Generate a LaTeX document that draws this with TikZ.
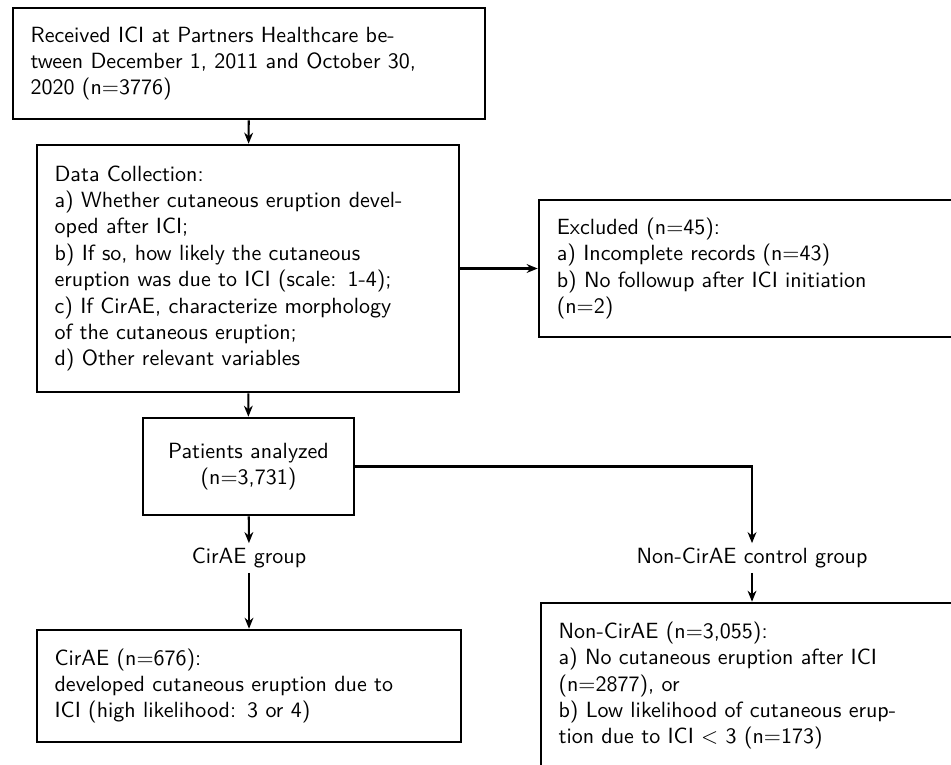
\documentclass[tikz,border=0pt]{standalone}
\usetikzlibrary{arrows.meta}
\renewcommand{\familydefault}{\sfdefault}

\begin{document}
\begin{tikzpicture}[x=0.4545pt,y=0.4545pt,yscale=-1,xscale=1,
  flowbox/.style={draw, line width=1.15pt, inner xsep=8pt, inner ysep=0pt, align=left},
  grouplabel/.style={inner sep=2pt},
  flowarrow/.style={line width=0.95pt, -{Stealth[length=5pt,width=4pt,inset=1.6pt]}}]
%set diagram frame: 951 x 764, boxes on the right run past the edge
\useasboundingbox (0,0) rectangle (951,764);
\clip (0,0) rectangle (951,764);

% Box: received ICI
\draw (249,63.5) node (recv) [flowbox, minimum width=214.5pt, minimum height=50.5pt, text width=198.5pt]
  {Received ICI at Partners Healthcare be-\\tween December 1, 2011 and October 30,\\2020 (n=3776)};

% Box: data collection
\draw (248,268.5) node (collect) [flowbox, minimum width=191.8pt, minimum height=112.3pt, text width=175.8pt]
  {Data Collection:\\
   a) Whether cutaneous eruption devel-\\oped after ICI;\\
   b) If so, how likely the cutaneous\\eruption was due to ICI (scale: 1-4);\\
   c) If CirAE, characterize morphology\\of the cutaneous eruption;\\
   d) Other relevant variables};

% Box: excluded
\draw (757,268.5) node (excl) [flowbox, minimum width=198.2pt, minimum height=62.3pt, text width=182pt]
  {Excluded (n=45):\\a) Incomplete records (n=43)\\b) No followup after ICI initiation\\(n=2)};

% Box: patients analyzed
\draw (248.5,466.5) node (analyzed) [flowbox, align=center, minimum width=95.9pt, minimum height=44.1pt]
  {Patients analyzed\\(n=3,731)};

% Text Node
\draw (249,558) node (cirgrp) [grouplabel] {CirAE group};
% Text Node
\draw (752,558) node (noncirgrp) [grouplabel] {Non-CirAE control group};

% Box: CirAE
\draw (249,686) node (cirae) [flowbox, minimum width=192.7pt, minimum height=50.9pt, text width=176.7pt]
  {CirAE (n=676):\\developed cutaneous eruption due to\\ICI (high likelihood: 3 or 4)};

% Box: Non-CirAE
\draw (758,685.5) node (noncirae) [flowbox, minimum width=197.3pt, minimum height=75pt, text width=181.3pt]
  {Non-CirAE (n=3,055):\\a) No cutaneous eruption after ICI\\(n=2877), or\\b) Low likelihood of cutaneous erup-\\tion due to ICI $<$ 3 (n=173)};

%Arrows
\draw [flowarrow] (recv) -- (collect);
\draw [flowarrow] (collect) -- (excl);
\draw [flowarrow] (collect) -- (analyzed);
\draw [flowarrow] (analyzed) -- (cirgrp);
\draw [flowarrow] (analyzed) -| (noncirgrp);
\draw [flowarrow] (cirgrp) -- (cirae);
\draw [flowarrow] (noncirgrp) -- (noncirgrp |- noncirae.north);

\end{tikzpicture}
\end{document}
